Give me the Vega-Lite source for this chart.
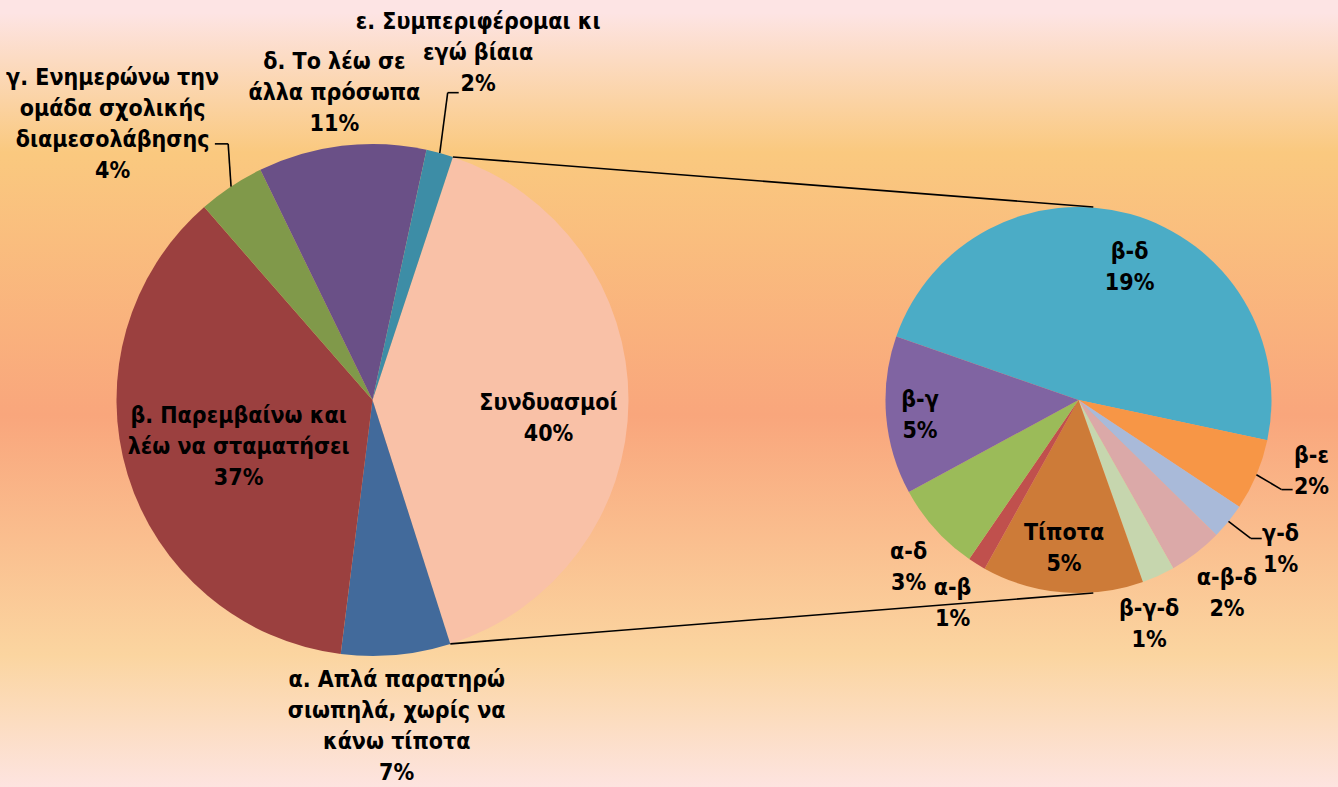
{
  "$schema": "https://vega.github.io/schema/vega-lite/v6.json",
  "width": 1338,
  "height": 774,
  "autosize": {"type": "none"},
  "padding": {"left": 0, "right": 0, "top": 13, "bottom": 0},
  "background": "#FDE4E4",
  "config": {
    "view": {
      "stroke": null,
      "fill": {
        "gradient": "linear", "x1": 0, "y1": 0, "x2": 0, "y2": 1,
        "stops": [
          {"offset": 0, "color": "#FDE4E4"},
          {"offset": 0.18, "color": "#FAC97F"},
          {"offset": 0.52, "color": "#F9A67C"},
          {"offset": 0.83, "color": "#FBD5A0"},
          {"offset": 1, "color": "#FDE4E0"}
        ]
      }
    },
    "text": {"font": "Liberation Sans Narrow, Arial Narrow, DejaVu Sans Condensed, sans-serif", "fontWeight": "bold", "fontSize": 23, "lineHeight": 31, "lineBreak": "\n", "color": "#000000", "align": "center", "baseline": "middle"}
  },
  "data": {
    "values": [
      {"pie": "big", "order": 1, "key": "Σ", "name": "Συνδυασμοί", "value": 40.0},
      {"pie": "big", "order": 2, "key": "α", "name": "α. Απλά παρατηρώ\nσιωπηλά, χωρίς να\nκάνω τίποτα", "value": 6.9},
      {"pie": "big", "order": 3, "key": "β", "name": "β. Παρεμβαίνω και\nλέω να σταματήσει", "value": 36.6},
      {"pie": "big", "order": 4, "key": "γ", "name": "γ. Ενημερώνω την\nομάδα σχολικής\nδιαμεσολάβησης", "value": 4.2},
      {"pie": "big", "order": 5, "key": "δ", "name": "δ. Το λέω σε\nάλλα πρόσωπα", "value": 10.6},
      {"pie": "big", "order": 6, "key": "ε", "name": "ε. Συμπεριφέρομαι κι\nεγώ βίαια", "value": 1.7},
      {"pie": "small", "order": 1, "key": "β-δ", "name": "β-δ", "value": 19.2},
      {"pie": "small", "order": 2, "key": "β-ε", "name": "β-ε", "value": 2.4},
      {"pie": "small", "order": 3, "key": "γ-δ", "name": "γ-δ", "value": 1.2},
      {"pie": "small", "order": 4, "key": "α-β-δ", "name": "α-β-δ", "value": 1.8},
      {"pie": "small", "order": 5, "key": "β-γ-δ", "name": "β-γ-δ", "value": 1.1},
      {"pie": "small", "order": 6, "key": "Τίποτα", "name": "Τίποτα", "value": 5.4},
      {"pie": "small", "order": 7, "key": "α-β", "name": "α-β", "value": 0.6},
      {"pie": "small", "order": 8, "key": "α-δ", "name": "α-δ", "value": 3.0},
      {"pie": "small", "order": 9, "key": "β-γ", "name": "β-γ", "value": 5.3}
    ]
  },
  "transform": [
    {"stack": "value", "groupby": ["pie"], "sort": [{"field": "order", "order": "ascending"}], "offset": "normalize", "as": ["s0", "s1"]},
    {"calculate": "(datum.s0 + datum.s1) / 2", "as": "mid"},
    {"calculate": "datum.name + '\\n' + format(datum.value, '.0f') + '%'", "as": "label"}
  ],
  "resolve": {"scale": {"theta": "independent"}},
  "layer": [
    {
      "transform": [{"filter": "datum.pie == 'big'"}],
      "encoding": {
        "x": {"field": "pie", "type": "nominal", "scale": {"type": "point", "domain": ["big", "small"], "range": [372.5, 1078.5], "padding": 0}, "axis": null}
      },
      "layer": [
        {
          "mark": {"type": "arc", "outerRadius": 256, "stroke": null},
          "encoding": {
            "theta": {"field": "s0", "type": "quantitative", "stack": null, "scale": {"domain": [0, 1], "range": [0.3194, 6.6026]}},
            "theta2": {"field": "s1"},
            "color": {
              "field": "key", "type": "nominal", "legend": null,
              "scale": {
                "domain": ["Σ", "α", "β", "γ", "δ", "ε", "β-δ", "β-ε", "γ-δ", "α-β-δ", "β-γ-δ", "Τίποτα", "α-β", "α-δ", "β-γ"],
                "range": ["#F9C1A7", "#426A9B", "#9B403F", "#80994A", "#6A5087", "#3D8DA6", "#4BACC6", "#F79646", "#A9BAD9", "#DBA9A8", "#C6D6AE", "#CD7B38", "#C0504D", "#9BBB59", "#8064A2"]
              }
            }
          }
        },
        {
          "transform": [{"filter": "datum.key == 'Σ'"}],
          "mark": {"type": "text", "radius": 176, "dy": 2.5},
          "encoding": {"theta": {"field": "mid", "type": "quantitative", "scale": {"domain": [0, 1], "range": [0.3194, 6.6026]}}, "text": {"field": "label"}}
        },
        {
          "transform": [{"filter": "datum.key == 'β'"}],
          "mark": {"type": "text", "radius": 140, "dy": -25},
          "encoding": {"theta": {"field": "mid", "type": "quantitative", "scale": {"domain": [0, 1], "range": [0.3194, 6.6026]}}, "text": {"field": "label"}}
        },
        {
          "transform": [{"filter": "datum.key == 'α'"}],
          "mark": {"type": "text", "radius": 328, "dx": -6, "dy": -46.5},
          "encoding": {"theta": {"field": "mid", "type": "quantitative", "scale": {"domain": [0, 1], "range": [0.3194, 6.6026]}}, "text": {"field": "label"}}
        },
        {
          "transform": [{"filter": "datum.key == 'γ'"}],
          "mark": {"type": "text", "radius": 331, "dx": -77, "dy": -46.5},
          "encoding": {"theta": {"field": "mid", "type": "quantitative", "scale": {"domain": [0, 1], "range": [0.3194, 6.6026]}}, "text": {"field": "label"}}
        },
        {
          "transform": [{"filter": "datum.key == 'δ'"}],
          "mark": {"type": "text", "radius": 309, "dx": -1, "dy": -31},
          "encoding": {"theta": {"field": "mid", "type": "quantitative", "scale": {"domain": [0, 1], "range": [0.3194, 6.6026]}}, "text": {"field": "label"}}
        },
        {
          "transform": [{"filter": "datum.key == 'ε'"}],
          "mark": {"type": "text", "radius": 360, "dx": 11, "dy": -31},
          "encoding": {"theta": {"field": "mid", "type": "quantitative", "scale": {"domain": [0, 1], "range": [0.3194, 6.6026]}}, "text": {"field": "label"}}
        }
      ]
    },
    {
      "transform": [{"filter": "datum.pie == 'small'"}],
      "encoding": {
        "x": {"field": "pie", "type": "nominal", "scale": {"type": "point", "domain": ["big", "small"], "range": [372.5, 1078.5], "padding": 0}, "axis": null}
      },
      "layer": [
        {
          "mark": {"type": "arc", "outerRadius": 193, "stroke": null},
          "encoding": {
            "theta": {"field": "s0", "type": "quantitative", "stack": null, "scale": {"domain": [0, 1], "range": [-1.2357, 5.0475]}},
            "theta2": {"field": "s1"},
            "color": {
              "field": "key", "type": "nominal", "legend": null,
              "scale": {
                "domain": ["Σ", "α", "β", "γ", "δ", "ε", "β-δ", "β-ε", "γ-δ", "α-β-δ", "β-γ-δ", "Τίποτα", "α-β", "α-δ", "β-γ"],
                "range": ["#F9C1A7", "#426A9B", "#9B403F", "#80994A", "#6A5087", "#3D8DA6", "#4BACC6", "#F79646", "#A9BAD9", "#DBA9A8", "#C6D6AE", "#CD7B38", "#C0504D", "#9BBB59", "#8064A2"]
              }
            }
          }
        },
        {
          "transform": [{"filter": "datum.key == 'β-δ'"}],
          "mark": {"type": "text", "radius": 138, "dx": 14, "dy": -15.5},
          "encoding": {"theta": {"field": "mid", "type": "quantitative", "scale": {"domain": [0, 1], "range": [-1.2357, 5.0475]}}, "text": {"field": "label"}}
        },
        {
          "transform": [{"filter": "datum.key == 'β-γ'"}],
          "mark": {"type": "text", "radius": 159, "dy": -12.5},
          "encoding": {"theta": {"field": "mid", "type": "quantitative", "scale": {"domain": [0, 1], "range": [-1.2357, 5.0475]}}, "text": {"field": "label"}}
        },
        {
          "transform": [{"filter": "datum.key == 'Τίποτα'"}],
          "mark": {"type": "text", "radius": 149, "dx": -2, "dy": -15.5},
          "encoding": {"theta": {"field": "mid", "type": "quantitative", "scale": {"domain": [0, 1], "range": [-1.2357, 5.0475]}}, "text": {"field": "label"}}
        },
        {
          "transform": [{"filter": "datum.key == 'α-δ'"}],
          "mark": {"type": "text", "radius": 238, "dx": 7, "dy": -7.5},
          "encoding": {"theta": {"field": "mid", "type": "quantitative", "scale": {"domain": [0, 1], "range": [-1.2357, 5.0475]}}, "text": {"field": "label"}}
        },
        {
          "transform": [{"filter": "datum.key == 'α-β'"}],
          "mark": {"type": "text", "radius": 239, "dy": -15.5},
          "encoding": {"theta": {"field": "mid", "type": "quantitative", "scale": {"domain": [0, 1], "range": [-1.2357, 5.0475]}}, "text": {"field": "label"}}
        },
        {
          "transform": [{"filter": "datum.key == 'β-γ-δ'"}],
          "mark": {"type": "text", "radius": 236, "dx": -27, "dy": -5.5},
          "encoding": {"theta": {"field": "mid", "type": "quantitative", "scale": {"domain": [0, 1], "range": [-1.2357, 5.0475]}}, "text": {"field": "label"}}
        },
        {
          "transform": [{"filter": "datum.key == 'α-β-δ'"}],
          "mark": {"type": "text", "radius": 244, "dy": -15.5},
          "encoding": {"theta": {"field": "mid", "type": "quantitative", "scale": {"domain": [0, 1], "range": [-1.2357, 5.0475]}}, "text": {"field": "label"}}
        },
        {
          "transform": [{"filter": "datum.key == 'γ-δ'"}],
          "mark": {"type": "text", "radius": 251, "dx": 7, "dy": -23.5},
          "encoding": {"theta": {"field": "mid", "type": "quantitative", "scale": {"domain": [0, 1], "range": [-1.2357, 5.0475]}}, "text": {"field": "label"}}
        },
        {
          "transform": [{"filter": "datum.key == 'β-ε'"}],
          "mark": {"type": "text", "radius": 243, "dx": 9, "dy": -38.5},
          "encoding": {"theta": {"field": "mid", "type": "quantitative", "scale": {"domain": [0, 1], "range": [-1.2357, 5.0475]}}, "text": {"field": "label"}}
        }
      ]
    },
    {
      "transform": [
        {"filter": "datum.key == 'Σ'"},
        {"calculate": "0.3194 + datum.s0 * 2 * PI", "as": "a0"},
        {"calculate": "0.3194 + datum.s1 * 2 * PI", "as": "a1"},
        {"calculate": "372.5 + 256 * sin(datum.a0)", "as": "tx1"},
        {"calculate": "height / 2 - 256 * cos(datum.a0)", "as": "ty1"},
        {"calculate": "1093.3", "as": "tx2"},
        {"calculate": "height / 2 - 193", "as": "ty2"},
        {"calculate": "372.5 + 256 * sin(datum.a1)", "as": "bx1"},
        {"calculate": "height / 2 - 256 * cos(datum.a1)", "as": "by1"},
        {"calculate": "height / 2 + 193", "as": "by2"}
      ],
      "layer": [
        {
          "mark": {"type": "rule", "color": "#000000", "strokeWidth": 1.6},
          "encoding": {
            "x": {"field": "tx1", "type": "quantitative", "scale": null},
            "y": {"field": "ty1", "type": "quantitative", "scale": null},
            "x2": {"field": "tx2"},
            "y2": {"field": "ty2"}
          }
        },
        {
          "mark": {"type": "rule", "color": "#000000", "strokeWidth": 1.6},
          "encoding": {
            "x": {"field": "bx1", "type": "quantitative", "scale": null},
            "y": {"field": "by1", "type": "quantitative", "scale": null},
            "x2": {"field": "tx2"},
            "y2": {"field": "by2"}
          }
        }
      ]
    },
    {
      "transform": [
        {"filter": "indexof(['γ', 'ε', 'β-ε', 'γ-δ'], datum.key) >= 0"},
        {"calculate": "(datum.pie == 'big' ? 0.3194 : -1.2357) + datum.mid * 2 * PI", "as": "A"},
        {"calculate": "datum.pie == 'big' ? 372.5 : 1078.5", "as": "CX"},
        {"calculate": "datum.pie == 'big' ? 256 : 193", "as": "R"},
        {"calculate": "datum.key == 'γ' ? 330.6 : datum.key == 'ε' ? 13.75 : datum.key == 'β-ε' ? 113.8 : 128.8", "as": "EA"},
        {"calculate": "datum.key == 'γ' ? 294 : datum.key == 'ε' ? 316.4 : datum.key == 'β-ε' ? 222 : 221", "as": "ER"},
        {"calculate": "datum.CX + datum.R * sin(datum.A)", "as": "sx"},
        {"calculate": "height / 2 - datum.R * cos(datum.A)", "as": "sy"},
        {"calculate": "datum.CX + datum.ER * sin(datum.EA * PI / 180)", "as": "ex"},
        {"calculate": "height / 2 - datum.ER * cos(datum.EA * PI / 180)", "as": "ey"},
        {"calculate": "datum.ex + (datum.key == 'γ' ? -13.3 : 11)", "as": "hx"}
      ],
      "layer": [
        {
          "mark": {"type": "rule", "color": "#000000", "strokeWidth": 1.6},
          "encoding": {
            "x": {"field": "sx", "type": "quantitative", "scale": null},
            "y": {"field": "sy", "type": "quantitative", "scale": null},
            "x2": {"field": "ex"},
            "y2": {"field": "ey"}
          }
        },
        {
          "mark": {"type": "rule", "color": "#000000", "strokeWidth": 1.6},
          "encoding": {
            "x": {"field": "ex", "type": "quantitative", "scale": null},
            "y": {"field": "ey", "type": "quantitative", "scale": null},
            "x2": {"field": "hx"},
            "y2": {"field": "ey"}
          }
        }
      ]
    }
  ]
}
